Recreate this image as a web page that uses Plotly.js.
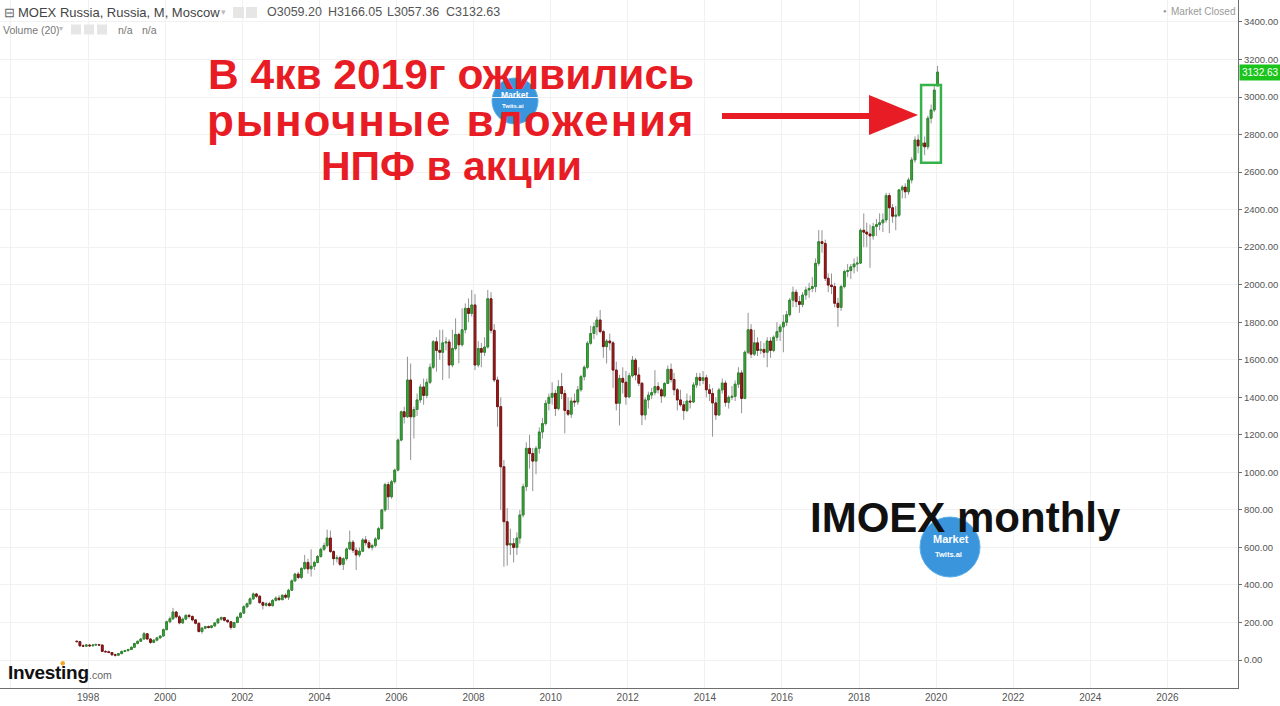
<!DOCTYPE html>
<html>
<head>
<meta charset="utf-8">
<script src="https://cdn.plot.ly/plotly-3.0.1.min.js"></script>
<style>
html,body{margin:0;padding:0;background:#fff;}
#chart{width:1280px;height:706px;}
</style>
</head>
<body>
<div id="chart"></div>
<script>
// Monthly IMOEX candles, Sep 1997 .. Jan 2020
const startYear = 1997, startMonth = 9;

const openV = [
 100,98,76,74,
 80,76,80,82,80,46,44,40,28,26,34,46,
 50,56,68,88,100,112,140,112,94,106,118,128,
 162,204,220,256,230,198,218,238,232,214,196,152,
 170,178,174,182,198,218,226,212,204,174,200,228,
 250,284,300,326,352,340,306,292,300,290,318,330,
 322,345,335,372,422,458,440,488,520,486,500,520,
 552,590,610,650,578,540,545,510,540,592,628,585,
 560,580,640,625,600,610,645,700,800,935,870,950,
 1012,1172,1323,1296,1492,1296,1335,1386,1455,1410,1480,1560,
 1696,1650,1640,1690,1695,1572,1660,1735,1680,1760,1874,1847,
 1892,1572,1660,1640,1668,1925,1757,1492,1350,1030,737,613,
 620,600,650,773,924,1128,1100,1060,1128,1215,1260,1368,
 1400,1421,1340,1457,1420,1330,1310,1380,1375,1440,1510,1560,
 1688,1740,1776,1812,1750,1670,1700,1690,1545,1368,1501,1480,
 1402,1515,1598,1519,1475,1306,1386,1412,1425,1457,1440,1407,
 1474,1549,1495,1440,1386,1360,1329,1380,1375,1466,1506,1490,
 1504,1440,1420,1370,1306,1439,1476,1373,1400,1405,1470,1530,
 1394,1640,1760,1630,1690,1650,1655,1640,1700,1650,1720,1750,
 1775,1800,1840,1918,1960,1910,1895,1945,1972,1980,1990,2114,
 2229,2220,2034,1998,1990,1901,1879,1990,2070,2075,2095,2110,
 2115,2290,2280,2270,2260,2310,2320,2330,2345,2475,2410,2365,
 2370,2505,2520,2495,2558,2665,2771,2740,2755,2735,2887,2931,
 3059.20
];
const highV = [
 106,102,84,84,
 86,84,88,86,82,52,50,42,34,38,50,54,
 60,72,92,104,116,150,142,118,110,124,132,168,
 210,232,278,262,240,226,244,246,238,218,200,176,
 182,184,186,202,224,232,230,216,208,204,236,256,
 292,306,334,360,358,346,312,310,310,325,340,345,
 350,355,380,430,465,470,495,560,540,590,530,560,
 600,625,695,690,585,560,555,548,600,690,640,600,
 600,650,660,640,620,655,710,805,945,950,960,1020,
 1180,1330,1350,1616,1580,1350,1420,1470,1500,1500,1580,1705,
 1720,1760,1760,1720,1710,1760,1821,1745,1874,1900,1927,1972,
 1950,1700,1690,1720,1972,1960,1790,1510,1400,1066,810,700,
 650,680,800,940,1160,1200,1130,1140,1240,1290,1386,1420,
 1480,1440,1492,1530,1440,1400,1400,1420,1460,1520,1570,1700,
 1780,1800,1830,1865,1760,1710,1740,1700,1590,1520,1560,1540,
 1530,1620,1610,1560,1480,1400,1430,1450,1545,1480,1450,1480,
 1570,1580,1530,1450,1440,1380,1420,1410,1480,1530,1530,1540,
 1520,1470,1450,1400,1450,1500,1490,1410,1460,1490,1560,1545,
 1650,1850,1790,1760,1720,1700,1690,1720,1720,1730,1800,1790,
 1840,1860,1930,1990,1975,1940,1960,1990,2010,2040,2140,2291,
 2290,2240,2060,2060,2010,1930,2000,2080,2110,2110,2140,2150,
 2300,2380,2330,2320,2330,2350,2380,2380,2490,2490,2430,2420,
 2510,2530,2540,2570,2680,2790,2800,2770,2790,2900,2960,3060,
 3166.05
];
const lowV = [
 96,70,70,72,
 70,72,78,76,44,40,38,22,18,24,32,42,
 46,54,66,84,96,110,108,86,90,100,114,124,
 158,196,214,222,190,192,212,222,206,190,146,140,
 164,168,168,178,194,210,206,196,162,172,196,222,
 246,276,296,320,330,300,270,285,285,285,312,315,
 318,325,320,368,415,430,430,480,460,445,480,515,
 545,580,600,570,505,520,500,480,530,585,570,480,
 548,575,610,590,585,600,640,695,790,800,860,940,
 1005,1165,1260,1290,1066,1180,1300,1370,1360,1395,1470,1550,
 1537,1600,1492,1650,1500,1560,1650,1581,1670,1740,1800,1830,
 1545,1560,1560,1620,1660,1740,1480,1243,800,497,503,560,
 520,560,620,760,900,1020,900,990,1100,1180,1250,1330,
 1360,1300,1330,1390,1208,1300,1290,1350,1360,1430,1490,1550,
 1680,1710,1730,1740,1610,1580,1650,1450,1330,1250,1420,1360,
 1395,1505,1490,1460,1252,1280,1340,1390,1410,1420,1370,1400,
 1470,1480,1410,1330,1350,1280,1320,1340,1370,1450,1460,1470,
 1400,1380,1190,1280,1300,1420,1350,1340,1385,1380,1450,1315,
 1390,1630,1610,1620,1620,1630,1610,1560,1610,1640,1700,1700,
 1640,1780,1830,1880,1880,1850,1880,1920,1930,1960,1960,2100,
 2170,2020,1960,1950,1880,1776,1860,1980,2040,2030,2060,2070,
 2110,2200,2200,2090,2240,2260,2290,2280,2330,2274,2330,2290,
 2360,2460,2460,2480,2540,2650,2700,2647,2690,2720,2860,2920,
 3057.36
];
const closeV = [
 98,76,74,80,
 76,80,82,80,46,44,40,28,26,34,46,50,
 56,68,88,100,112,140,112,94,106,118,128,162,
 204,220,256,230,198,218,238,232,214,196,152,170,
 178,174,182,198,218,226,212,204,174,200,228,250,
 284,300,326,352,340,306,292,300,290,318,330,322,
 345,335,372,422,458,440,488,520,486,500,520,552,
 590,610,650,578,540,545,510,540,592,628,585,560,
 580,640,625,600,610,645,700,800,935,870,950,1012,
 1172,1323,1296,1492,1296,1335,1386,1455,1410,1480,1560,1696,
 1650,1640,1690,1695,1572,1660,1735,1680,1760,1874,1847,1892,
 1572,1660,1640,1668,1925,1757,1492,1350,1030,737,613,620,
 600,650,773,924,1128,1100,1060,1128,1215,1260,1368,1400,
 1421,1340,1457,1420,1330,1310,1380,1375,1440,1510,1560,1688,
 1740,1776,1812,1750,1670,1700,1690,1545,1368,1501,1480,1402,
 1515,1598,1519,1475,1306,1386,1412,1425,1457,1440,1407,1474,
 1549,1495,1440,1386,1360,1329,1380,1375,1466,1506,1490,1504,
 1440,1420,1370,1306,1439,1476,1373,1400,1405,1470,1530,1394,
 1640,1760,1630,1690,1650,1655,1640,1700,1650,1720,1750,1775,
 1800,1840,1918,1960,1910,1895,1945,1972,1980,1990,2114,2229,
 2220,2034,1998,1990,1901,1879,1990,2070,2075,2095,2110,2115,
 2290,2280,2270,2260,2310,2320,2330,2345,2475,2410,2365,2370,
 2505,2520,2495,2558,2665,2771,2740,2755,2735,2887,2931,3037,
 3132.63
];

const headerName = 'MOEX Russia, Russia, M, Moscow';
const headerOHLC = ['O3059.20', 'H3166.05', 'L3057.36', 'C3132.63'];
const lastPrice = '3132.63';
const redLines = ['В 4кв 2019г оживились', 'рыночные вложения', 'НПФ в акции'];
const chartLabel = 'IMOEX monthly';

// month dates (mid-month)
const dates = openV.map((_, i) => {
  const t = (startMonth - 1) + i;
  const y = startYear + Math.floor(t / 12);
  const m = (t % 12) + 1;
  return y + '-' + String(m).padStart(2, '0') + '-15';
});
const bodyHigh = openV.map((o, i) => Math.max(o, closeV[i]));
const bodyLow = openV.map((o, i) => Math.min(o, closeV[i]));

// plot area: 0..1238 px wide, 0..688 px tall
const PW = 1238, PH = 688;
const px = x => x / PW;
const py = y => 1 - y / PH;

const GREEN = '#3ea83e', GREEN_L = '#2e8a2e';
const RED = '#a31d1d', RED_L = '#7c1212';
const WICK = '#939393';

const wickTrace = {
  type: 'candlestick', x: dates, open: openV, high: highV, low: lowV, close: closeV,
  increasing: {line: {color: WICK, width: 1}, fillcolor: WICK},
  decreasing: {line: {color: WICK, width: 1}, fillcolor: WICK},
  hoverinfo: 'skip', showlegend: false
};
const bodyTrace = {
  type: 'candlestick', x: dates, open: openV, high: bodyHigh, low: bodyLow, close: closeV,
  increasing: {line: {color: GREEN_L, width: 1}, fillcolor: GREEN},
  decreasing: {line: {color: RED_L, width: 1}, fillcolor: RED},
  hoverinfo: 'skip', showlegend: false
};

const FONT = 'Liberation Sans, Arial, sans-serif';
const ann = [];
function txt(x, y, text, size, color, opts) {
  ann.push(Object.assign({
    xref: 'paper', yref: 'paper', x: px(x), y: py(y), text: text, showarrow: false,
    xanchor: 'left', yanchor: 'middle', font: {family: FONT, size: size, color: color}
  }, opts || {}));
}
// header
txt(2, 12.5, '⊟', 13, '#666');
txt(16, 12.5, headerName, 13, '#444');
txt(219, 12, '▾', 9, '#bbb');
const ohlcX = [265, 326, 385, 444];
headerOHLC.forEach((s, i) => txt(ohlcX[i], 12.5, s, 12.5, '#555'));
txt(1, 29.5, 'Volume (20)', 10.5, '#777');
txt(57, 29, '▾', 8, '#bbb');
txt(116, 29.5, 'n/a', 10.5, '#777');
txt(140, 29.5, 'n/a', 10.5, '#777');
txt(1161, 11.5, '●', 6, '#999');
txt(1169, 11.5, 'Market Closed', 10, '#999');

// logos (drawn first so the red text lies over them)
txt(515, 95, '<b>Market</b>', 8.5, '#fff', {xanchor: 'center'});
txt(513, 106, '<b>Twits.ai</b>', 6, '#fff', {xanchor: 'center'});
txt(951, 539, '<b>Market</b>', 11, '#fff', {xanchor: 'center'});
txt(948, 554, '<b>Twits.ai</b>', 7.5, '#fff', {xanchor: 'center'});

// red annotation text
const redY = [75, 121, 166];
const redSize = [42.5, 44, 41];
const redSpacing = [0, 1.8, 0];
redLines.forEach((s, i) => txt(451, redY[i],
  '<b><span style="letter-spacing:' + redSpacing[i] + 'px">' + s + '</span></b>',
  redSize[i], '#e81c24', {xanchor: 'center'}));
// label
txt(965, 517, '<b>' + chartLabel + '</b>', 42, '#111', {xanchor: 'center'});

// Investing.com
txt(6, 672, '<b><span style="letter-spacing:-0.3px">Investing</span></b>', 19, '#111');
txt(86.5, 675, '.com', 10.5, '#666');

// last price label
ann.push({xref: 'paper', yref: 'y', x: 1, y: 3132.63, text: lastPrice, showarrow: false,
  xanchor: 'left', yanchor: 'middle', xshift: 1, bgcolor: '#1bc41b', borderpad: 2,
  font: {family: FONT, size: 10, color: '#fff'}});

const shapes = [
  // header icons
  {type: 'rect', xref: 'paper', yref: 'paper', x0: px(233), x1: px(244), y0: py(18), y1: py(7), fillcolor: '#e6e6e6', line: {width: 0}},
  {type: 'rect', xref: 'paper', yref: 'paper', x0: px(246), x1: px(257), y0: py(18), y1: py(7), fillcolor: '#e6e6e6', line: {width: 0}},
  {type: 'rect', xref: 'paper', yref: 'paper', x0: px(71), x1: px(81), y0: py(34.5), y1: py(24.5), fillcolor: '#e6e6e6', line: {width: 0}},
  {type: 'rect', xref: 'paper', yref: 'paper', x0: px(84), x1: px(94), y0: py(34.5), y1: py(24.5), fillcolor: '#e6e6e6', line: {width: 0}},
  {type: 'rect', xref: 'paper', yref: 'paper', x0: px(97), x1: px(107), y0: py(34.5), y1: py(24.5), fillcolor: '#e6e6e6', line: {width: 0}},
  // logo circles
  {type: 'circle', xref: 'paper', yref: 'paper', x0: px(492), x1: px(538), y0: py(124), y1: py(78), fillcolor: '#3a95dc', line: {color: '#5aaee8', width: 1}, layer: 'below'},
  {type: 'circle', xref: 'paper', yref: 'paper', x0: px(920), x1: px(980), y0: py(577), y1: py(517), fillcolor: '#3a95dc', line: {color: '#5aaee8', width: 1}},
  // orange dot of Investing logo
  {type: 'circle', xref: 'paper', yref: 'paper', x0: px(60.5), x1: px(65), y0: py(665.5), y1: py(661), fillcolor: '#f5a623', line: {width: 0}},
  // red arrow
  {type: 'line', xref: 'paper', yref: 'paper', x0: px(722), x1: px(876), y0: py(116), y1: py(116), line: {color: '#e81c24', width: 6}},
  {type: 'path', xref: 'paper', yref: 'paper',
    path: 'M' + px(869) + ',' + py(95) + ' L' + px(918) + ',' + py(115) + ' L' + px(869) + ',' + py(135) + ' Z',
    fillcolor: '#e81c24', line: {width: 0}},
  // green frame around Q4 2019
  {type: 'rect', xref: 'x', yref: 'y', x0: '2019-08-12', x1: '2020-02-16', y0: 2650, y1: 3064,
    line: {color: '#35b34a', width: 2.5}, fillcolor: 'rgba(0,0,0,0)'}
];

const layout = {
  width: 1280, height: 706,
  margin: {l: 0, r: 42, t: 0, b: 18, pad: 0},
  paper_bgcolor: '#fff', plot_bgcolor: '#fff',
  showlegend: false,
  boxgap: 0.15,
  xaxis: {
    type: 'date', range: ['1995-09-19', '2027-11-01'],
    tick0: '1998-01-01', dtick: 'M24', tickformat: '%Y',
    showgrid: true, gridcolor: '#f1f1f1', gridwidth: 1,
    showline: true, linecolor: '#6e6e6e', linewidth: 1,
    ticks: '', zeroline: false,
    rangeslider: {visible: false},
    tickfont: {family: FONT, size: 10, color: '#555'}
  },
  yaxis: {
    side: 'right', range: [-149, 3517], tick0: 0, dtick: 200, tickformat: '.2f',
    showgrid: true, gridcolor: '#f1f1f1', gridwidth: 1,
    showline: true, linecolor: '#6e6e6e', linewidth: 1,
    ticks: 'outside', ticklen: 3, tickcolor: '#6e6e6e',
    zeroline: false,
    tickfont: {family: FONT, size: 9.5, color: '#555'}
  },
  annotations: ann,
  shapes: shapes
};

Plotly.newPlot('chart', [wickTrace, bodyTrace], layout, {displayModeBar: false, staticPlot: true});
</script>
</body>
</html>
